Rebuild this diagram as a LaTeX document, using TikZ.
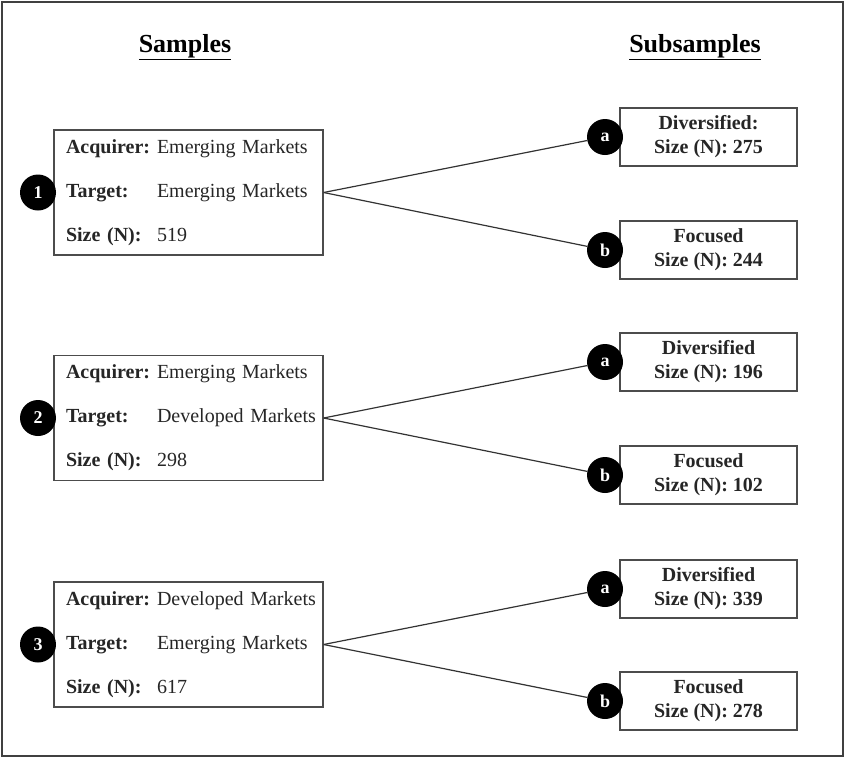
\documentclass[tikz,border=0pt]{standalone}
\usepackage{fontspec}
\setmainfont{Liberation Serif}
\usetikzlibrary{positioning}

\begin{document}
\begin{tikzpicture}[
                x=1pt, y=-1pt,
                frame/.style={draw=black!75, line width=1.5pt},
                heading/.style={font=\bfseries\fontsize{26}{28}\selectfont},
                samplebox/.style={draw=black!70, line width=1.2pt, fill=white, minimum width=269pt, minimum height=125pt,
                    inner xsep=12pt, text width=245pt, align=left, font=\fontsize{20}{44}\selectfont, text=black!85},
                subbox/.style={draw=black!70, line width=1.2pt, fill=white, minimum width=177pt, minimum height=58pt,
                    align=center, font=\bfseries\fontsize{20}{24}\selectfont, text=black!85},
                marker/.style={circle, fill=black, text=white, minimum size=36pt, inner sep=0pt, font=\bfseries\fontsize{18}{18}\selectfont},
                link/.style={draw=black!80, line width=1.2pt}
            ]
                \useasboundingbox (0,0) rectangle (845,758);
                \draw[frame] (2,2) rectangle (843,756);

                % Headings
                \node[heading] (hsmp) at (185,47) {\underline{Samples}};
                \node[heading] (hsub) at (695,47) {\underline{Subsamples}};

                % Sample 1
                \node[samplebox] (smp1) at (188.5,192.5) {\mbox{\makebox[91pt][l]{\textbf{Acquirer:}}Emerging Markets}\\
                    \mbox{\makebox[91pt][l]{\textbf{Target:}}Emerging Markets}\\
                    \mbox{\makebox[91pt][l]{\textbf{Size (N):}}519}};
                \node[marker] (num1) at (38,192.5) {1};
                \node[subbox] (div1) at (708.5,137) {Diversified:\\Size (N): 275};
                \node[subbox] (foc1) at (708.5,250) {Focused\\Size (N): 244};
                \node[marker] (mka1) at (605,137) {a};
                \node[marker] (mkb1) at (605,250) {b};

                % Sample 2
                \node[samplebox] (smp2) at (188.5,418) {\mbox{\makebox[91pt][l]{\textbf{Acquirer:}}Emerging Markets}\\
                    \mbox{\makebox[91pt][l]{\textbf{Target:}}Developed Markets}\\
                    \mbox{\makebox[91pt][l]{\textbf{Size (N):}}298}};
                \node[marker] (num2) at (38,418) {2};
                \node[subbox] (div2) at (708.5,362) {Diversified\\Size (N): 196};
                \node[subbox] (foc2) at (708.5,475) {Focused\\Size (N): 102};
                \node[marker] (mka2) at (605,362) {a};
                \node[marker] (mkb2) at (605,475) {b};

                % Sample 3
                \node[samplebox] (smp3) at (188.5,644.5) {\mbox{\makebox[91pt][l]{\textbf{Acquirer:}}Developed Markets}\\
                    \mbox{\makebox[91pt][l]{\textbf{Target:}}Emerging Markets}\\
                    \mbox{\makebox[91pt][l]{\textbf{Size (N):}}617}};
                \node[marker] (num3) at (38,644.5) {3};
                \node[subbox] (div3) at (708.5,589) {Diversified\\Size (N): 339};
                \node[subbox] (foc3) at (708.5,701) {Focused\\Size (N): 278};
                \node[marker] (mka3) at (605,589) {a};
                \node[marker] (mkb3) at (605,701) {b};

                \draw[link] (smp1.east) -- (mka1);
                \draw[link] (smp1.east) -- (mkb1);
                \draw[link] (smp2.east) -- (mka2);
                \draw[link] (smp2.east) -- (mkb2);
                \draw[link] (smp3.east) -- (mka3);
                \draw[link] (smp3.east) -- (mkb3);
            \end{tikzpicture}
\end{document}
